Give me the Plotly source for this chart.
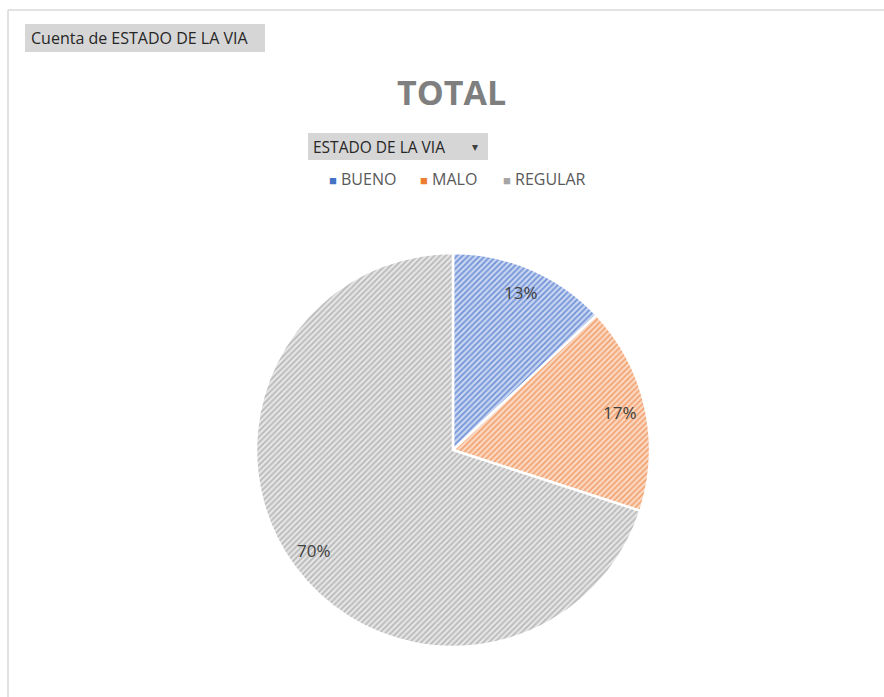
import math
import plotly.graph_objects as go

# Data
categories = ["BUENO", "MALO", "REGULAR"]
shares = [13, 17, 70]  # percent of road segments per condition
key_colors = ["#4472C4", "#ED7D31", "#A5A5A5"]
stripe_colors = ["#7393D8", "#F2A372", "#B9B9B9"]
bg_colors = ["#CAD7F1", "#FBD9C3", "#E6E6E6"]

W, H = 884, 697
cx, cy, r = 453, 450, 197  # pie centre and radius in pixels


def px_x(x):
    return x / W


def px_y(y):
    return 1 - y / H


fig = go.Figure()
fig.add_trace(go.Pie(
    labels=categories,
    values=shares,
    sort=False,
    direction="clockwise",
    rotation=0,
    textinfo="none",
    hoverinfo="label+percent",
    marker=dict(
        colors=bg_colors,
        line=dict(color="white", width=2.5),
        pattern=dict(shape="/", fgcolor=stripe_colors, bgcolor=bg_colors,
                     size=4, solidity=0.45, fillmode="replace"),
    ),
    domain=dict(x=[px_x(cx - r), px_x(cx + r)], y=[px_y(cy + r), px_y(cy - r)]),
    showlegend=False,
))

annotations = []
# Percentage labels placed at 0.87 of the radius, at each slice's mid angle
total = sum(shares)
cum = 0
for v in shares:
    mid = (cum + v / 2) / total * 2 * math.pi
    cum += v
    lx = cx + 0.87 * r * math.sin(mid)
    ly = cy - 0.87 * r * math.cos(mid)
    annotations.append(dict(
        x=px_x(lx), y=px_y(ly), xref="paper", yref="paper",
        text=f"{round(v / total * 100)}%", showarrow=False,
        font=dict(family="Open Sans, Liberation Sans", size=17, color="#404040"),
        xanchor="center", yanchor="middle",
    ))

# Legend row
legend_x = [327, 418, 501]
for name, col, lx in zip(categories, key_colors, legend_x):
    annotations.append(dict(
        x=px_x(lx), y=px_y(179), xref="paper", yref="paper",
        text=f"<span style='color:{col};font-size:13px'>■</span> {name}", showarrow=False,
        font=dict(family="Open Sans, Liberation Sans", size=16, color="#595959"),
        xanchor="left", yanchor="middle",
    ))

# Title
annotations.append(dict(
    x=px_x(452), y=px_y(92), xref="paper", yref="paper",
    text="<b>TOTAL</b>", showarrow=False,
    font=dict(family="Open Sans, Liberation Sans", size=34, color="#7F7F7F"),
    xanchor="center", yanchor="middle",
))

# Field buttons
annotations.append(dict(
    x=px_x(29), y=px_y(38), xref="paper", yref="paper",
    text="Cuenta de ESTADO DE LA VIA", showarrow=False,
    font=dict(family="Open Sans, Noto Sans", size=16, color="#262626"),
    xanchor="left", yanchor="middle",
))
annotations.append(dict(
    x=px_x(311), y=px_y(147), xref="paper", yref="paper",
    text="ESTADO DE LA VIA", showarrow=False,
    font=dict(family="Open Sans, Noto Sans", size=15.5, color="#262626"),
    xanchor="left", yanchor="middle",
))
annotations.append(dict(
    x=px_x(475), y=px_y(147), xref="paper", yref="paper",
    text="▾", showarrow=False,
    font=dict(family="DejaVu Sans", size=12, color="#404040"),
    xanchor="center", yanchor="middle",
))

shapes = [
    # chart frame (top and left edges)
    dict(type="line", xref="paper", yref="paper",
         x0=px_x(8), x1=px_x(884), y0=px_y(10), y1=px_y(10),
         line=dict(color="#D9D9D9", width=1.5)),
    dict(type="line", xref="paper", yref="paper",
         x0=px_x(8), x1=px_x(8), y0=px_y(10), y1=px_y(697),
         line=dict(color="#D9D9D9", width=1.5)),
    # field button backgrounds
    dict(type="rect", xref="paper", yref="paper",
         x0=px_x(25), x1=px_x(265), y0=px_y(52), y1=px_y(24),
         fillcolor="#D6D6D6", line=dict(width=0), layer="below"),
    dict(type="rect", xref="paper", yref="paper",
         x0=px_x(308), x1=px_x(488), y0=px_y(160), y1=px_y(133),
         fillcolor="#D6D6D6", line=dict(width=0), layer="below"),
]

fig.update_layout(
    width=W, height=H,
    margin=dict(l=0, r=0, t=0, b=0),
    paper_bgcolor="white",
    plot_bgcolor="white",
    annotations=annotations,
    shapes=shapes,
)

fig.write_html("out.html")
